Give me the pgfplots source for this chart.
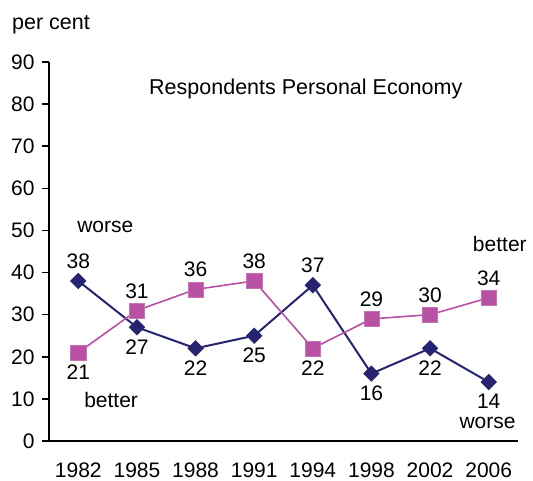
\documentclass[border=0pt]{standalone}
\usepackage{pgfplots}
\pgfplotsset{compat=1.18}
\usepackage{fontspec}
\setmainfont{Liberation Sans}
\definecolor{worsec}{RGB}{38,36,112}
\definecolor{betterc}{RGB}{184,80,164}
\begin{document}
\begin{tikzpicture}
\useasboundingbox (0,0) rectangle (533pt,481pt);
\begin{axis}[
  at={(49pt,40pt)}, anchor=south west,
  scale only axis, width=469pt, height=379pt,
  xmin=-0.5, xmax=7.5, ymin=0, ymax=90,
  axis x line*=bottom, axis y line*=left,
  axis line style={line width=1.6pt, -},
  xtick={0,...,7},
  xticklabels={1982,1985,1988,1991,1994,1998,2002,2006},
  x tick style={draw=none},
  ytick={0,10,...,90},
  y tick style={line width=1.6pt, black},
  tick align=outside, major tick length=7pt,
  /pgf/number format/assume math mode=true,
  tick label style={font=\fontsize{21}{23}\selectfont},
  xticklabel style={yshift=-11pt},
  yticklabel style={xshift=-4pt},
  clip=false,
  above/.style={draw=none, mark=none, nodes near coords,
    every node near coord/.append style={font=\fontsize{21}{23}\selectfont, anchor=south, text=black, inner sep=12pt}},
  below/.style={draw=none, mark=none, nodes near coords,
    every node near coord/.append style={font=\fontsize{21}{23}\selectfont, anchor=north, text=black, inner sep=12pt}},
]
% worse
\addplot[color=worsec, line width=2pt, mark=square*, mark size=5.6pt,
  mark options={fill=worsec, draw=worsec, line width=0.3pt, rotate=45}]
  coordinates {(0,38) (1,27) (2,22) (3,25) (4,37) (5,16) (6,22) (7,14)};
% better
\addplot[color=betterc, line width=1.6pt, mark=square*, mark size=7.6pt,
  mark options={fill=betterc, draw=betterc!80!white, line width=0.5pt}]
  coordinates {(0,21) (1,31) (2,36) (3,38) (4,22) (5,29) (6,30) (7,34)};
% value labels
\addplot[above] coordinates {(0,38) (4,37)};
\addplot[below] coordinates {(1,27) (2,22) (3,25) (5,16) (6,22) (7,14)};
\addplot[above] coordinates {(1,31) (2,36) (3,38) (5,29) (6,30) (7,34)};
\addplot[below] coordinates {(0,21) (4,22)};
\node[font=\fontsize{21}{23}\selectfont] at (axis cs:0.46,50.8) {worse};
\node[font=\fontsize{21}{23}\selectfont] at (axis cs:0.56,9.7) {better};
\node[font=\fontsize{21}{23}\selectfont] at (axis cs:7.19,46.8) {better};
\node[font=\fontsize{21}{23}\selectfont] at (axis cs:6.98,4.3) {worse};
\node[font=\fontsize{21.5}{24}\selectfont] at (axis cs:3.88,83.6) {Respondents Personal Economy};
\end{axis}
\node[font=\fontsize{21.5}{24}\selectfont] at (51pt,456pt) {per cent};
\end{tikzpicture}
\end{document}
